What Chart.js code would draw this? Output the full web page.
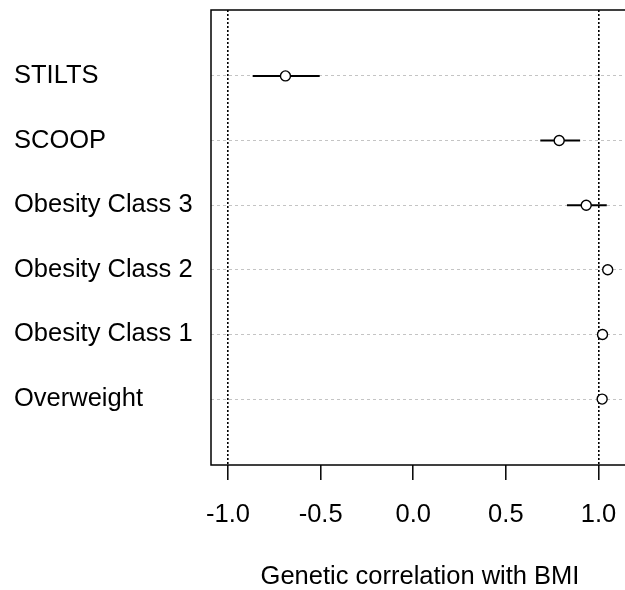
<!DOCTYPE html>
<html>
<head>
<meta charset="utf-8">
<script src="https://cdn.jsdelivr.net/npm/chart.js@4.4.1/dist/chart.umd.min.js"></script>
<style>
  html, body { margin: 0; padding: 0; background: #fff; overflow: hidden; }
  #wrap { position: absolute; left: 0; top: 0; width: 640px; height: 590px; }
</style>
</head>
<body>
<div id="wrap"><canvas id="corrCanvas"></canvas></div>
<script>
// rows from bottom (y = 1) to top (y = 6)
const traits = ['Overweight', 'Obesity Class 1', 'Obesity Class 2', 'Obesity Class 3', 'SCOOP', 'STILTS'];
const rg = [1.02, 1.022, 1.05, 0.934, 0.788, -0.69];
const ciLow = [1.005, 1.008, 1.035, 0.83, 0.686, -0.867];
const ciHigh = [1.035, 1.036, 1.065, 1.045, 0.901, -0.505];
const xTicks = [-1.0, -0.5, 0.0, 0.5, 1.0];
const refLines = [-1, 1];

const FONT = { family: '"Liberation Sans", Arial, sans-serif', size: 25.5 };
Chart.defaults.color = '#000';

const errorBars = traits.map((t, i) => ({
    type: 'line',
    label: t + ' CI',
    data: [{ x: ciLow[i], y: i + 1 }, { x: ciHigh[i], y: i + 1 }],
    borderColor: '#000',
    borderWidth: 2,
    pointRadius: 0,
    fill: false,
    order: 2
}));

const boxPlugin = {
    id: 'plotBox',
    afterDatasetsDraw(chart) {
        const a = chart.chartArea;
        const c = chart.ctx;
        c.save();
        c.strokeStyle = '#000';
        c.lineWidth = 1.5;
        c.strokeRect(a.left, a.top, a.right - a.left, a.bottom - a.top);
        c.restore();
    }
};

const ctx = document.getElementById('corrCanvas').getContext('2d');
new Chart(ctx, {
    type: 'scatter',
    data: {
        datasets: [
            ...errorBars,
            {
                label: 'rg',
                data: rg.map((v, i) => ({ x: v, y: i + 1 })),
                pointStyle: 'circle',
                pointRadius: 5,
                pointBorderWidth: 1.4,
                pointBorderColor: '#000',
                pointBackgroundColor: '#fff',
                order: 1
            }
        ]
    },
    options: {
        responsive: true,
        maintainAspectRatio: false,
        animation: false,
        layout: { padding: { left: 14, top: 10, right: 11, bottom: 0 } },
        plugins: {
            legend: { display: false },
            tooltip: { enabled: false }
        },
        scales: {
            x: {
                type: 'linear',
                min: -1.092,
                max: 1.165,
                afterBuildTicks: (s) => { s.ticks = xTicks.map(v => ({ value: v })); },
                afterFit: (s) => { s.height = 125; },
                ticks: {
                    font: FONT,
                    padding: 20,
                    autoSkip: false,
                    maxRotation: 0,
                    callback: (v) => Number(v).toFixed(1)
                },
                grid: {
                    color: (c) => (c.tick && refLines.includes(c.tick.value)) ? '#000' : 'rgba(0,0,0,0)',
                    lineWidth: 1.6,
                    drawTicks: true,
                    tickLength: 15,
                    tickColor: '#000',
                    tickWidth: 1.5
                },
                border: { display: false, dash: [2, 2] },
                title: {
                    display: true,
                    text: 'Genetic correlation with BMI',
                    font: { family: FONT.family, size: FONT.size, lineHeight: 1.0 },
                    padding: { top: 0, bottom: 0 }
                }
            },
            y: {
                type: 'linear',
                min: -0.02,
                max: 7.02,
                afterBuildTicks: (s) => { s.ticks = traits.map((t, i) => ({ value: i + 1 })); },
                afterFit: (s) => { s.width = 197; },
                ticks: {
                    font: { family: FONT.family, size: FONT.size, lineHeight: 0.5 },
                    crossAlign: 'far',
                    autoSkip: false,
                    callback: (v) => traits[v - 1] || ''
                },
                grid: {
                    color: '#c4c4c4',
                    lineWidth: 1,
                    drawTicks: false
                },
                border: { display: false, dash: [3, 3] }
            }
        }
    },
    plugins: [boxPlugin]
});
</script>
</body>
</html>
